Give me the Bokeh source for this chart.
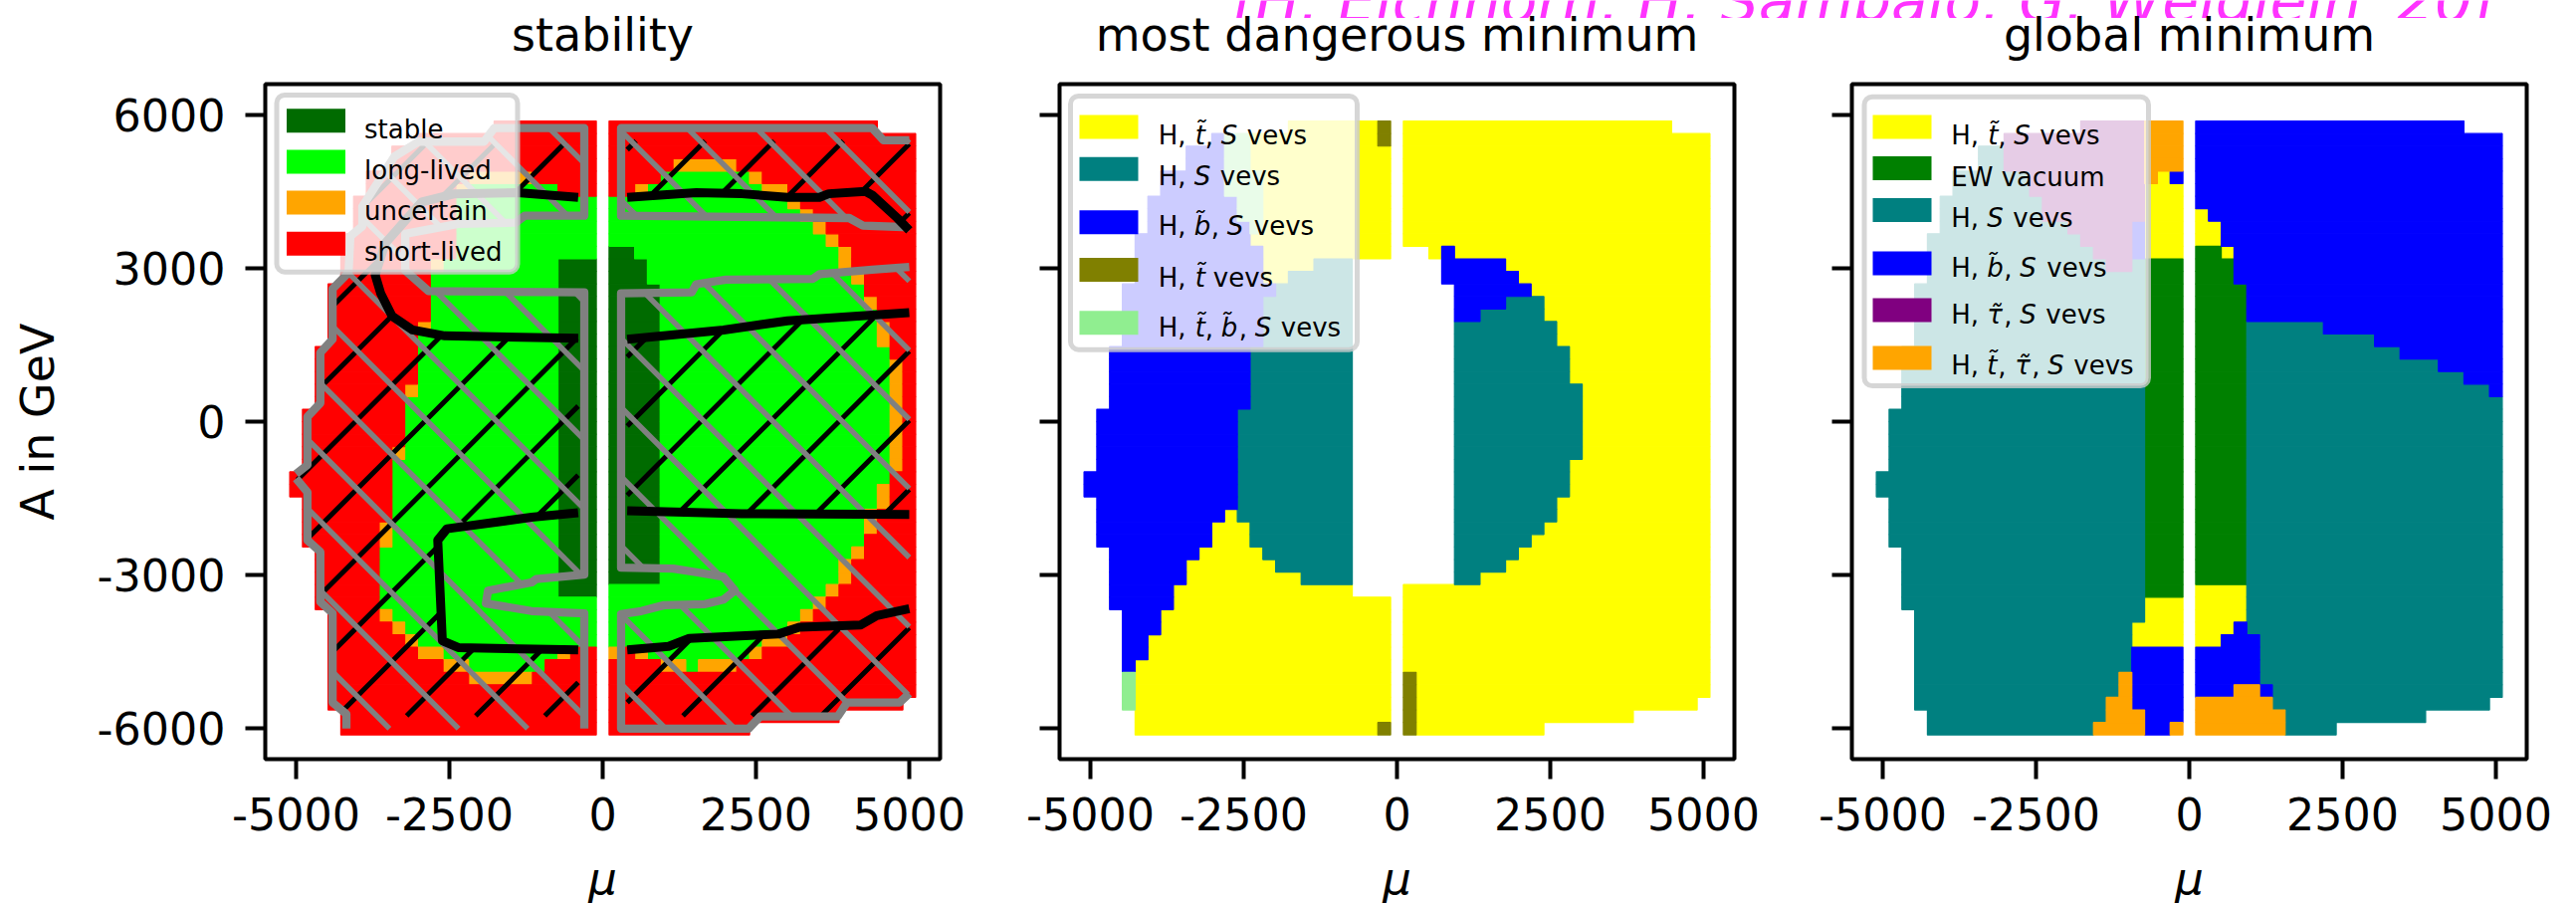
import numpy as np
from bokeh.embed import file_html
from bokeh.layouts import column, row
from bokeh.models import BoxAnnotation, ColumnDataSource, FixedTicker, Label, Range1d, Title
from bokeh.plotting import figure
from bokeh.resources import INLINE

# ---------- data ----------
MU_TICKS = [-5000, -2500, 0, 2500, 5000]
A_TICKS = [-6000, -3000, 0, 3000, 6000]
TITLES = ["stability", "most dangerous minimum", "global minimum"]
CITATION = "[H. Eichhorn, H. Sampaio, G. Weiglein '20]"

MU_CELL = 208.33      # width of a scan cell in mu
A_TOP = 5888.0        # upper edge of first scan row
A_CELL = 245.14       # height of a scan row

# Each row (top to bottom): (repeat, "k0 cat k1 cat k2 ...") ; k = column boundary, "." = no point
STABILITY_ROWS = [
 (1, "-8 S 0 . 1 S 22"), (1, "-14 S 0 . 1 S 25"), (1, "-16 S 0 . 1 S 25"),
 (1, "-16 S 0 . 1 S 6 U 11 S 25"),
 (1, "-18 S -10 U -5 S 0 . 1 S 5 L 12 U 13 S 25"),
 (1, "-18 S -11 U -10 L -3 S 0 . 1 S 3 U 4 L 13 U 15 S 25"),
 (1, "-19 S -11 L 0 . 1 L 15 U 16 S 25"), (1, "-19 S -11 L 0 . 1 L 16 U 17 S 25"),
 (1, "-19 S -11 L 0 . 1 L 17 U 18 S 25"), (1, "-20 S -11 L 0 . 1 L 18 U 19 S 25"),
 (1, "-20 S -11 L 0 . 1 D 3 L 19 U 20 S 25"),
 (1, "-20 S -13 U -12 L -3 D 0 . 1 D 4 L 19 U 20 S 25"),
 (1, "-20 S -13 L -3 D 0 . 1 D 4 L 20 U 21 S 25"),
 (1, "-21 S -13 L -3 D 0 . 1 D 5 L 21 S 25"),
 (1, "-21 S -13 L -3 D 0 . 1 D 5 L 21 U 22 S 25"),
 (1, "-21 S -13 L -3 D 0 . 1 D 5 L 22 S 25"),
 (1, "-21 S -14 U -13 L -3 D 0 . 1 D 5 L 22 U 23 S 25"),
 (1, "-21 S -14 L -3 D 0 . 1 D 5 L 22 U 23 S 25"),
 (1, "-22 S -14 L -3 D 0 . 1 D 5 L 23 S 25"),
 (2, "-22 S -14 L -3 D 0 . 1 D 5 L 23 U 24 S 25"),
 (1, "-22 S -15 U -14 L -3 D 0 . 1 D 5 L 23 U 24 S 25"),
 (1, "-22 S -15 L -3 D 0 . 1 D 5 L 23 U 24 S 25"),
 (3, "-23 S -15 L -3 D 0 . 1 D 5 L 23 U 24 S 25"),
 (1, "-23 S -16 U -15 L -3 D 0 . 1 D 5 L 23 U 24 S 25"),
 (1, "-23 S -16 L -3 D 0 . 1 D 5 L 23 U 24 S 25"),
 (1, "-24 S -16 L -3 D 0 . 1 D 5 L 23 S 25"),
 (1, "-24 S -16 L -3 D 0 . 1 D 5 L 22 U 23 S 25"),
 (1, "-23 S -16 L -3 D 0 . 1 D 5 L 22 U 23 S 25"),
 (1, "-23 S -16 L -3 D 0 . 1 D 5 L 21 U 22 S 25"),
 (1, "-23 S -17 U -16 L -3 D 0 . 1 D 5 L 21 U 22 S 25"),
 (1, "-23 S -17 U -16 L -3 D 0 . 1 D 5 L 21 S 25"),
 (1, "-22 S -17 L -3 D 0 . 1 D 5 L 20 U 21 S 25"),
 (2, "-22 S -17 L -3 D 0 . 1 D 5 L 19 U 20 S 25"),
 (1, "-22 S -17 L -3 D 0 . 1 L 18 U 19 S 25"),
 (1, "-22 S -17 L 0 . 1 L 17 U 18 S 25"),
 (1, "-21 S -17 U -16 L 0 . 1 L 16 U 17 S 25"),
 (1, "-21 S -16 U -15 L 0 . 1 L 15 U 16 S 25"),
 (1, "-21 S -15 U -14 L 0 . 1 L 13 U 15 S 25"),
 (1, "-21 S -14 U -12 L -3 U -2 S 0 . 1 U 2 S 3 U 4 L 12 U 13 S 25"),
 (1, "-21 S -12 U -10 L -4 S 0 . 1 S 5 U 7 L 8 U 11 S 25"),
 (1, "-21 S -10 U -5 S 0 . 1 S 25"), (1, "-21 S 0 . 1 S 25"),
 (1, "-21 S 0 . 1 S 24"), (1, "-20 S 0 . 1 S 19"), (1, "-20 S 0 . 1 S 12"),
]

DANGEROUS_ROWS = [
 (1, "-8 Y -1 O 0 . 1 Y 22"), (1, "-14 B -13 P -11 Y -1 O 0 . 1 Y 25"),
 (2, "-16 B -13 P -11 Y 0 . 1 Y 25"), (2, "-18 B -13 P -10 Y 0 . 1 Y 25"),
 (2, "-19 B -12 P -10 Y 0 . 1 Y 25"), (1, "-19 B -11 P -10 Y 0 . 1 Y 25"),
 (1, "-20 B -11 Y 0 . 1 Y 25"), (1, "-20 B -10 Y 0 . 3 Y 4 B 5 Y 25"),
 (1, "-20 B -10 Y -6 T -3 . 4 B 9 Y 25"), (1, "-20 B -10 Y -8 T -3 . 4 B 10 Y 25"),
 (1, "-21 B -9 T -3 . 5 B 11 Y 25"), (1, "-21 B -10 T -3 . 5 B 9 T 12 Y 25"),
 (1, "-21 B -10 T -3 . 5 B 7 T 12 Y 25"), (2, "-21 B -10 T -3 . 5 T 13 Y 25"),
 (3, "-22 B -11 T -3 . 5 T 14 Y 25"), (2, "-22 B -11 T -3 . 5 T 15 Y 25"),
 (4, "-23 B -12 T -3 . 5 T 15 Y 25"), (1, "-23 B -12 T -3 . 5 T 14 Y 25"),
 (2, "-24 B -12 T -3 . 5 T 14 Y 25"), (1, "-23 B -12 T -3 . 5 T 13 Y 25"),
 (1, "-23 B -13 Y -12 T -3 . 5 T 13 Y 25"), (1, "-23 B -14 Y -11 T -3 . 5 T 12 Y 25"),
 (1, "-23 B -14 Y -11 T -3 . 5 T 11 Y 25"), (1, "-22 B -15 Y -10 T -3 . 5 T 10 Y 25"),
 (1, "-22 B -16 Y -9 T -3 . 5 T 9 Y 25"), (1, "-22 B -16 Y -7 T -3 . 5 T 7 Y 25"),
 (1, "-22 B -17 Y -3 . 1 Y 25"), (1, "-22 B -17 Y 0 . 1 Y 25"),
 (2, "-21 B -18 Y 0 . 1 Y 25"), (2, "-21 B -19 Y 0 . 1 Y 25"),
 (1, "-21 B -20 Y 0 . 1 Y 25"), (2, "-21 P -20 Y 0 . 1 O 2 Y 25"),
 (1, "-21 P -20 Y 0 . 1 O 2 Y 24"), (1, "-20 Y 0 . 1 O 2 Y 19"),
 (1, "-20 Y -1 O 0 . 1 O 2 Y 12"),
]

GLOBAL_ROWS = [
 (1, "-8 V -3 N 0 . 1 B 22"), (1, "-14 V -3 N 0 . 1 B 25"),
 (2, "-16 T -14 V -3 N 0 . 1 B 25"), (1, "-18 T -12 V -3 N -2 Y -1 B 0 . 1 B 25"),
 (1, "-18 T -12 V -3 Y 0 . 1 B 25"), (1, "-19 T -11 V -3 Y 0 . 1 B 25"),
 (1, "-19 T -11 V -3 Y 0 . 1 Y 2 B 25"), (1, "-19 T -9 V -4 B -3 Y 0 . 1 Y 3 B 25"),
 (1, "-20 T -8 V -4 B -3 Y 0 . 1 Y 3 B 25"), (1, "-20 T -7 V -4 B -3 Y 0 . 1 G 3 Y 4 B 25"),
 (1, "-20 T -6 V -4 T -3 G 0 . 1 G 4 B 25"), (1, "-20 T -3 G 0 . 1 G 4 B 25"),
 (3, "-21 T -3 G 0 . 1 G 5 B 25"), (1, "-21 T -3 G 0 . 1 G 5 T 11 B 25"),
 (1, "-21 T -3 G 0 . 1 G 5 T 15 B 25"), (1, "-22 T -3 G 0 . 1 G 5 T 17 B 25"),
 (1, "-22 T -3 G 0 . 1 G 5 T 20 B 25"), (1, "-22 T -3 G 0 . 1 G 5 T 22 B 25"),
 (1, "-22 T -3 G 0 . 1 G 5 T 24 B 25"), (1, "-22 T -3 G 0 . 1 G 5 T 25"),
 (5, "-23 T -3 G 0 . 1 G 5 T 25"), (2, "-24 T -3 G 0 . 1 G 5 T 25"),
 (4, "-23 T -3 G 0 . 1 G 5 T 25"), (3, "-22 T -3 G 0 . 1 G 5 T 25"),
 (1, "-22 T -3 G 0 . 1 Y 5 T 25"), (1, "-22 T -3 Y 0 . 1 Y 5 T 25"),
 (1, "-21 T -3 Y 0 . 1 Y 5 T 25"), (1, "-21 T -4 Y 0 . 1 Y 4 B 5 T 25"),
 (1, "-21 T -4 Y 0 . 1 Y 3 B 6 T 25"), (2, "-21 T -4 B 0 . 1 B 6 T 25"),
 (1, "-21 T -5 N -4 B 0 . 1 B 6 T 25"), (1, "-21 T -5 N -4 B 0 . 1 B 4 N 6 B 7 T 25"),
 (1, "-21 T -6 N -4 B 0 . 1 N 7 T 24"), (1, "-20 T -6 N -3 B 0 . 1 N 8 T 19"),
 (1, "-20 T -7 N -3 B -1 N 0 . 1 N 8 T 12"),
]

STABILITY_COLORS = {"D": "#006b00", "L": "#00ff00", "U": "#ffa500", "S": "#ff0000"}
DANGEROUS_COLORS = {"Y": "#ffff00", "T": "#008080", "B": "#0000ff", "O": "#808000", "P": "#90ee90"}
GLOBAL_COLORS = {"Y": "#ffff00", "G": "#008000", "T": "#008080", "B": "#0000ff", "V": "#800080", "N": "#ffa500"}

# contour lines (mu, A)
GREY_LEFT_UPPER = [(-5000, -1015), (-4815, -840), (-4815, 100), (-4605, 370), (-4605, 1355), (-4405, 1620),
    (-4405, 2605), (-4145, 2920), (-4115, 3635), (-3920, 3830), (-3920, 4215), (-3400, 5190), (-3000, 5485),
    (-1935, 5485), (-1770, 5750), (-300, 5750), (-300, 4035), (-1270, 4035), (-1420, 3900), (-2355, 3875),
    (-3220, 3680), (-3220, 2965), (-2840, 2560), (-300, 2535), (-300, -2985), (-1085, -3075), (-1160, -3140),
    (-1870, -3300), (-1905, -3550), (-1160, -3700), (-300, -3745), (-300, -6000)]
GREY_LEFT_LOWER = [(-4180, -6000), (-4180, -5715), (-4405, -5490), (-4405, -3745), (-4605, -3520), (-4605, -2540),
    (-4815, -2315), (-4815, -1375), (-5000, -1105)]
GREY_RIGHT_UPPER = [(5000, 3810), (4245, 3840), (4020, 3990), (300, 4035), (300, 5750), (4395, 5750),
    (4580, 5510), (5000, 5510)]
GREY_RIGHT_MAIN = [(5000, 3035), (4395, 2980), (3535, 2890), (3425, 2800), (2010, 2785), (1525, 2695), (1450, 2535),
    (300, 2515), (300, -2850), (1150, -2870), (1525, -2940), (1970, -3030), (2155, -3300), (1970, -3475),
    (1670, -3565), (1000, -3585), (630, -3700), (300, -3760), (300, -6000), (2380, -6000), (2570, -5760),
    (3835, -5760), (3985, -5490), (4840, -5490), (5000, -5310)]

BLACK_LEFT_UPPER = [(-400, 4395), (-1385, 4485), (-2430, 4460), (-2950, 4305), (-3545, 3500), (-3710, 2875),
    (-3620, 2515), (-3435, 2070), (-3100, 1800), (-2575, 1685), (-400, 1640)]
BLACK_LEFT_LOWER = [(-400, -1775), (-1160, -1865), (-2540, -2090), (-2690, -2315), (-2615, -4280), (-2355, -4415),
    (-400, -4460)]
BLACK_RIGHT_TOP = [(400, 4395), (1525, 4485), (2270, 4465), (3015, 4395), (3535, 4395), (3685, 4465), (4285, 4510),
    (4395, 4440), (4805, 3990), (5000, 3750)]
BLACK_RIGHT_MID_UP = [(400, 1620), (1970, 1800), (3015, 1980), (5000, 2140)]
BLACK_RIGHT_MID_LOW = [(400, -1735), (2270, -1795), (5000, -1810)]
BLACK_RIGHT_LOW = [(400, -4460), (1075, -4390), (1410, -4235), (2865, -4150), (3205, -4015), (4210, -3970),
    (4470, -3790), (5000, -3655)]

# ---------- layout / style ----------
FONT = "DejaVu Sans"
PX_X = 0.0616         # px per mu
PX_Y = 0.05133        # px per A
FRAME = 678
X_RANGE = (-5503, 5503)
Y_RANGE = (-6597, 6610)
LIFT = 18             # the panels' canvases start this far above the page top, to leave room for the titles
TOP, BOTTOM = 84 + LIFT, 144
FIG_H = TOP + FRAME + BOTTOM
HEAD_H = 18
SLASH_PHASE, BACK_PHASE = 16.4, 6.8
HATCH_STEP = 69.4


def fx(px):
    return X_RANGE[0] + px * (X_RANGE[1] - X_RANGE[0]) / FRAME


def fy(py):
    return Y_RANGE[1] - py * (Y_RANGE[1] - Y_RANGE[0]) / FRAME


def make_fig(width, left, title, ylabels):
    p = figure(width=width, height=FIG_H, output_backend="svg", toolbar_location=None,
               x_range=Range1d(*X_RANGE), y_range=Range1d(*Y_RANGE),
               min_border_left=left, min_border_right=width - left - FRAME,
               min_border_top=TOP, min_border_bottom=BOTTOM,
               frame_width=FRAME, frame_height=FRAME,
               border_fill_color=None, background_fill_color="white",
               outline_line_color="black", outline_line_width=4)
    p.add_layout(Title(text=title, align="center", text_font=FONT, text_font_size="46px",
                       text_font_style="normal", text_color="black", standoff=46), "above")
    p.grid.visible = False
    for ax, ticks in ((p.xaxis, MU_TICKS), (p.yaxis, A_TICKS)):
        ax.ticker = FixedTicker(ticks=ticks)
        ax.minor_tick_line_color = None
        ax.axis_line_color = None
        ax.major_tick_line_color = "black"
        ax.major_tick_line_width = 4
        ax.major_tick_out = 20
        ax.major_tick_in = 0
        ax.major_label_text_font = FONT
        ax.major_label_text_font_size = "44.4px"
        ax.major_label_text_color = "black"
    p.xaxis.major_label_standoff = 18
    p.yaxis.major_label_standoff = 20
    p.xaxis.major_label_overrides = {t: str(t) for t in MU_TICKS}
    p.yaxis.major_label_overrides = {t: (str(t) if ylabels else "") for t in A_TICKS}
    p.xaxis.axis_label = "\u03bc"
    p.xaxis.axis_label_text_font = FONT
    p.xaxis.axis_label_text_font_size = "45px"
    p.xaxis.axis_label_text_font_style = "italic"
    p.xaxis.axis_label_text_color = "black"
    p.xaxis.axis_label_standoff = 19
    if ylabels:
        p.yaxis.axis_label = "A in GeV"
        p.yaxis.axis_label_text_font = FONT
        p.yaxis.axis_label_text_font_size = "46px"
        p.yaxis.axis_label_text_font_style = "normal"
        p.yaxis.axis_label_text_color = "black"
        p.yaxis.axis_label_standoff = 30
    return p


def draw_cells(p, rows, colors):
    runs = {c: dict(left=[], right=[], top=[], bottom=[]) for c in colors}
    r = 0
    for repeat, spec in rows:
        t = spec.split()
        for _ in range(repeat):
            for a, cat, b in zip(t[0::2], t[1::2], t[2::2]):
                if cat == ".":
                    continue
                d = runs[cat]
                d["left"].append((int(a) - 0.5) * MU_CELL)
                d["right"].append((int(b) - 0.5) * MU_CELL)
                d["top"].append(A_TOP - r * A_CELL)
                d["bottom"].append(A_TOP - (r + 1) * A_CELL)
            r += 1
    for cat, d in runs.items():
        p.quad(source=ColumnDataSource(d), left="left", right="right", top="top", bottom="bottom",
               fill_color=colors[cat], line_color=colors[cat], line_width=1.2)


def hatch(poly, slash):
    """Equally spaced 45-degree screen lines clipped to a (mu, A) polygon."""
    pts = np.array(poly, float)
    px, py = pts[:, 0] * PX_X, -pts[:, 1] * PX_Y
    if slash:
        s, t = px + py, px - py
        off, phase = 1028.6, SLASH_PHASE
    else:
        s, t = px - py, px + py
        off, phase = 182.0, BACK_PHASE
    first = np.floor((s.min() + off - phase) / HATCH_STEP)
    last = np.ceil((s.max() + off - phase) / HATCH_STEP)
    xs, ys = [], []
    for n in np.arange(first, last + 1):
        c = n * HATCH_STEP + phase - off
        hits = []
        for i in range(len(s)):
            j = (i + 1) % len(s)
            if (s[i] <= c) != (s[j] <= c):
                hits.append(t[i] + (c - s[i]) / (s[j] - s[i]) * (t[j] - t[i]))
        hits.sort()
        for a, b in zip(hits[0::2], hits[1::2]):
            if slash:
                qx = np.array([(c + a) / 2, (c + b) / 2]); qy = np.array([(c - a) / 2, (c - b) / 2])
            else:
                qx = np.array([(c + a) / 2, (c + b) / 2]); qy = np.array([(a - c) / 2, (b - c) / 2])
            xs.append(list(qx / PX_X))
            ys.append(list(-qy / PX_Y))
    return xs, ys


def draw_line(p, pts, color, width):
    p.line([q[0] for q in pts], [q[1] for q in pts], line_color=color, line_width=width,
           line_join="round", line_cap="butt")


def legend(p, box, swatch_x, text_x, entries):
    """box = (left, right, top, bottom), positions in px from the frame's top-left corner."""
    p.add_layout(BoxAnnotation(left=fx(box[0]), right=fx(box[1]), top=fy(box[2]), bottom=fy(box[3]),
                               fill_color="white", fill_alpha=0.8, line_color="#cccccc", line_alpha=0.8,
                               line_width=5, border_radius=8, editable=False))
    for color, center, base, parts in entries:
        p.add_layout(BoxAnnotation(left=fx(swatch_x), right=fx(swatch_x + 59), top=fy(center - 12),
                                   bottom=fy(center + 12), fill_color=color, fill_alpha=1, line_color=None))
        for offset, txt, italic in parts:
            p.add_layout(Label(x=fx(text_x + offset), y=fy(base), text=txt, text_font=FONT, text_font_size="26px",
                               text_font_style="italic" if italic else "normal", text_color="black",
                               text_baseline="alphabetic", text_align="left"))


TT, BB, TAU = "t\u0303", "b\u0303", "\u03c4\u0303"
HTS = [(0, "H,", 0), (37, TT, 1), (47, ",", 0), (63, "S", 1), (89, "vevs", 0)]
HS = [(0, "H,", 0), (36, "S", 1), (62, "vevs", 0)]
HBS = [(0, "H,", 0), (36, BB, 1), (53, ",", 0), (69, "S", 1), (96, "vevs", 0)]
HT = [(0, "H,", 0), (37, TT, 1), (55, "vevs", 0)]
HTBS = [(0, "H,", 0), (37, TT, 1), (47, ",", 0), (63, BB, 1), (81, ",", 0), (97, "S", 1), (123, "vevs", 0)]
HLS = [(0, "H,", 0), (36, TAU, 1), (53, ",", 0), (69, "S", 1), (95, "vevs", 0)]
HTLS = [(0, "H,", 0), (36, TT, 1), (47, ",", 0), (64, TAU, 1), (81, ",", 0), (97, "S", 1), (123, "vevs", 0)]

# ---------- panel 1 ----------
p1 = make_fig(1020, 266, TITLES[0], True)
draw_cells(p1, STABILITY_ROWS, STABILITY_COLORS)

outer = GREY_LEFT_LOWER[1:] + GREY_LEFT_UPPER[:13]
black_regions = [
    BLACK_LEFT_UPPER + BLACK_LEFT_LOWER + [(-400, -5750), (-4300, -5750)] + outer + [(-400, 5485)],
    BLACK_RIGHT_TOP + [(5000, 5500), (400, 5500)],
    BLACK_RIGHT_MID_UP + BLACK_RIGHT_MID_LOW[::-1],
    BLACK_RIGHT_LOW + [(5000, -5310), (4840, -5490), (3985, -5490), (3835, -5750), (400, -5750)],
]
grey_regions = [GREY_LEFT_UPPER + GREY_LEFT_LOWER, GREY_RIGHT_UPPER, GREY_RIGHT_MAIN]
for reg in black_regions:
    xs, ys = hatch(reg, True)
    p1.multi_line(xs, ys, line_color="black", line_width=5)
for reg in grey_regions:
    xs, ys = hatch(reg, False)
    p1.multi_line(xs, ys, line_color="#808080", line_width=5.5)
for path in (GREY_LEFT_UPPER, GREY_LEFT_LOWER, GREY_RIGHT_UPPER, GREY_RIGHT_MAIN):
    draw_line(p1, path, "#808080", 8.3)
for path in (BLACK_LEFT_UPPER, BLACK_LEFT_LOWER, BLACK_RIGHT_TOP, BLACK_RIGHT_MID_UP, BLACK_RIGHT_MID_LOW,
             BLACK_RIGHT_LOW):
    draw_line(p1, path, "black", 9)

legend(p1, (11.5, 253.5, 11, 188.7), 21.5, 99.5, [
    (STABILITY_COLORS["D"], 36.7, 45.3, [(0, "stable", 0)]),
    (STABILITY_COLORS["L"], 78, 86, [(0, "long-lived", 0)]),
    (STABILITY_COLORS["U"], 119, 127.7, [(0, "uncertain", 0)]),
    (STABILITY_COLORS["S"], 160.3, 168.7, [(0, "short-lived", 0)]),
])

# ---------- panel 2 ----------
p2 = make_fig(800, 44, TITLES[1], False)
draw_cells(p2, DANGEROUS_ROWS, DANGEROUS_COLORS)
legend(p2, (11, 299, 12, 266.7), 20, 99.3, [
    (DANGEROUS_COLORS["Y"], 43, 51, HTS),
    (DANGEROUS_COLORS["T"], 85.3, 92.7, HS),
    (DANGEROUS_COLORS["B"], 138.8, 142.7, HBS),
    (DANGEROUS_COLORS["O"], 186.5, 194, HT),
    (DANGEROUS_COLORS["P"], 239.8, 244.3, HTBS),
])

# ---------- panel 3 ----------
p3 = make_fig(768, 40, TITLES[2], False)
draw_cells(p3, GLOBAL_ROWS, GLOBAL_COLORS)
legend(p3, (12.5, 298, 12.7, 303), 21, 99.8, [
    (GLOBAL_COLORS["Y"], 43, 51.8, HTS),
    (GLOBAL_COLORS["G"], 84.4, 93, [(0, "EW vacuum", 0)]),
    (GLOBAL_COLORS["T"], 126.6, 134.4, HS),
    (GLOBAL_COLORS["B"], 179.9, 184, HBS),
    (GLOBAL_COLORS["V"], 227, 231.7, HLS),
    (GLOBAL_COLORS["N"], 274.9, 282.7, HTLS),
])

# ---------- clipped citation line at the very top ----------
head = figure(width=2588, height=HEAD_H, output_backend="svg", toolbar_location=None,
              x_range=Range1d(0, 2588), y_range=Range1d(0, HEAD_H), x_axis_type=None, y_axis_type=None,
              min_border=0, outline_line_color=None, border_fill_color=None, background_fill_color=None)
head.grid.visible = False
head.add_layout(Label(x=1237, y=HEAD_H - 0.5, text=CITATION, text_font=FONT, text_font_size="60px",
                      text_font_style="italic", text_color="#ff33ff", text_baseline="alphabetic"))

panels = row(p1, p2, p3, spacing=0, styles={"margin-top": f"-{HEAD_H + LIFT}px"})
page = column(head, panels, spacing=0, styles={"position": "absolute", "left": "0px", "top": "0px"})
open("out.html", "w").write(file_html(page, INLINE))
